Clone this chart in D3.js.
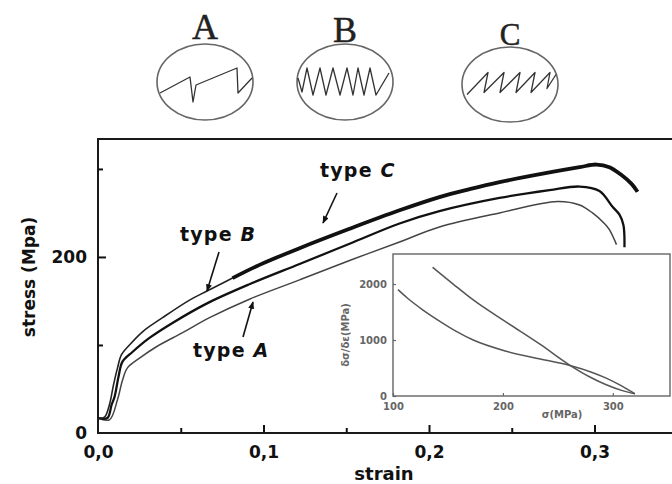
<!DOCTYPE html>
<html><head><meta charset="utf-8">
<script src="https://cdn.jsdelivr.net/npm/d3@7"></script>
<style>
html,body{margin:0;padding:0;background:#fff;}
svg{display:block;}
</style></head>
<body>
<svg id="chart" width="672" height="484"></svg>
<script>
// ---- Stress–strain curves (strain, stress in MPa) ----
const typeA_strain = [0, 0.0069, 0.0118, 0.0148, 0.0178, 0.0251, 0.0353, 0.0511, 0.0674, 0.0915, 0.1218, 0.152, 0.1822, 0.2063, 0.2426, 0.2776, 0.291, 0.2988, 0.306, 0.309, 0.3133];
const typeA_stress = [17, 15, 38, 60, 74, 85, 98, 114, 131, 152, 174, 196, 217, 234, 250, 263, 259, 250, 238, 231, 214];

const typeB_strain = [0, 0.0057, 0.0082, 0.01, 0.0124, 0.0148, 0.0208, 0.0311, 0.045, 0.0656, 0.0915, 0.1218, 0.152, 0.1822, 0.2063, 0.2426, 0.2728, 0.291, 0.303, 0.3109, 0.3151, 0.3175, 0.3181];
const typeB_stress = [17, 17, 32, 41, 64, 81, 92, 108, 125, 147, 169, 192, 215, 238, 252, 267, 276, 280, 275, 257, 248, 236, 211];

const typeC_strain = [0, 0.0039, 0.0069, 0.0094, 0.0118, 0.0142, 0.019, 0.0269, 0.039, 0.0553, 0.0656, 0.0813, 0.0976, 0.1218, 0.152, 0.1822, 0.2063, 0.2245, 0.2426, 0.2728, 0.291, 0.3012, 0.309, 0.3163, 0.3224, 0.326];
const typeC_stress = [17, 18, 32, 55, 74, 89, 100, 115, 131, 151, 161, 176, 191, 210, 232, 253, 268, 277, 285, 296, 302, 305, 302, 293, 283, 274];

// ---- Inset: work-hardening rate vs stress ----
const inset1_sigma = [104.5, 113, 127, 143, 158, 173, 203, 234, 261, 280, 294, 308, 320];
const inset1_rate  = [1900, 1750, 1540, 1330, 1150, 1000, 800, 660, 545, 430, 320, 180, 40];
const inset2_sigma = [136, 155, 173, 203, 234, 261, 280, 294, 308, 320];
const inset2_rate  = [2300, 1995, 1715, 1320, 920, 548, 330, 200, 100, 40];

// ---- Ticks ----
const strainTicks = [0, 0.1, 0.2, 0.3];
const strainMinorTicks = [0.05, 0.15, 0.25];
const stressTicks = [0, 200];
const stressMinorTicks = [100, 300];
const insetSigmaTicks = [100, 200, 300];
const insetRateTicks = [0, 1000, 2000];

// ---- Serration sketches (points relative to each oval centre) ----
const serrationTypes = ["A", "B", "C"];
const serrationA = [[-45,11],[-15,-5],[-12,20],[-9,3],[32,-14],[33,11],[47,-4]];
const serrationB = [[-47,-4],[-43,10],[-38,-14],[-32,13],[-25,-14],[-19,13],[-12,-14],[-5,13],[2,-14],[8,13],[13,-14],[19,13],[25,-14],[31,13],[44,-9]];
const serrationC = [[-43,10],[-22,-12],[-26,8],[-6,-12],[-10,8],[10,-12],[6,8],[25,-12],[21,8],[40,-12],[37,4],[46,-10]];

const svg = d3.select("#chart");
const SANS = "DejaVu Sans";
const zip = (a, b) => a.map((v, i) => [v, b[i]]);

// Main scales
const x = d3.scaleLinear().domain([0, 0.35]).range([98, 98 + 0.35 * 1655]);
const y = d3.scaleLinear().domain([0, 334]).range([433, 139]);

const commaFmt = d3.formatLocale({decimal: ",", thousands: ".", grouping: [3], currency: ["", ""]}).format(".1f");

// Frame
svg.append("rect")
  .attr("x", x(0)).attr("y", y(334))
  .attr("width", x(0.35) - x(0)).attr("height", y(0) - y(334))
  .attr("fill", "none").attr("stroke", "#1a1a1a").attr("stroke-width", 2);

function styleAxis(g, size, weight, color) {
  g.select(".domain").remove();
  g.selectAll("line").attr("stroke", color).attr("stroke-width", 2);
  g.selectAll("text").attr("font-family", SANS).attr("font-weight", weight)
    .attr("font-size", size).attr("fill", color);
}

// Bottom axis
const gx = svg.append("g").attr("transform", `translate(0,${y(0)})`)
  .call(d3.axisBottom(x).tickValues(strainTicks).tickSizeInner(-8).tickSizeOuter(0).tickPadding(13).tickFormat(commaFmt));
styleAxis(gx, 17, "bold", "#111");
gx.selectAll(".tick").filter(d => d === 0).select("line").remove();
const gxm = svg.append("g").attr("transform", `translate(0,${y(0)})`)
  .call(d3.axisBottom(x).tickValues(strainMinorTicks).tickSizeInner(-5).tickSizeOuter(0).tickFormat(""));
styleAxis(gxm, 17, "bold", "#111");

// Left axis
const gy = svg.append("g").attr("transform", `translate(${x(0)},0)`)
  .call(d3.axisLeft(y).tickValues(stressTicks).tickSizeInner(-8).tickSizeOuter(0).tickPadding(11).tickFormat(d3.format("d")));
styleAxis(gy, 17, "bold", "#111");
gy.selectAll(".tick").filter(d => d === 0).select("line").remove();
const gym = svg.append("g").attr("transform", `translate(${x(0)},0)`)
  .call(d3.axisLeft(y).tickValues(stressMinorTicks).tickSizeInner(-5).tickSizeOuter(0).tickFormat(""));
styleAxis(gym, 17, "bold", "#111");

// Axis titles
svg.append("text").attr("transform", "translate(35,277) rotate(-90)")
  .attr("text-anchor", "middle").attr("font-family", SANS).attr("font-weight", "bold")
  .attr("font-size", 17).attr("fill", "#111").text("stress (Mpa)");
svg.append("text").attr("x", 384).attr("y", 480)
  .attr("text-anchor", "middle").attr("font-family", SANS).attr("font-weight", "bold")
  .attr("font-size", 18).attr("fill", "#111").text("strain");

// Curves
const line = d3.line().x(d => x(d[0])).y(d => y(d[1])).curve(d3.curveCatmullRom.alpha(0.5));
const dataA = zip(typeA_strain, typeA_stress);
const dataB = zip(typeB_strain, typeB_stress);
const dataC = zip(typeC_strain, typeC_stress);

svg.append("path").datum(dataA).attr("d", line)
  .attr("fill", "none").attr("stroke", "#444").attr("stroke-width", 1.5);
svg.append("path").datum(dataB).attr("d", line)
  .attr("fill", "none").attr("stroke", "#111").attr("stroke-width", 2.3);
svg.append("path").datum(dataC).attr("d", line)
  .attr("fill", "none").attr("stroke", "#222").attr("stroke-width", 1.6);
// heavy serrated band of type C
svg.append("path").datum(dataC.filter(d => d[0] >= 0.0813)).attr("d", line)
  .attr("fill", "none").attr("stroke", "#111").attr("stroke-width", 3.8);

// Curve labels with arrows
const defs = svg.append("defs");
defs.append("marker").attr("id", "arrowhead").attr("viewBox", "0 0 10 8")
  .attr("refX", 9).attr("refY", 4).attr("markerWidth", 8).attr("markerHeight", 6)
  .attr("markerUnits", "userSpaceOnUse").attr("orient", "auto")
  .append("path").attr("d", "M0,0 L10,4 L0,8 Z").attr("fill", "#111");

const curveLabels = [
  {letter: "C", tx: 320, ty: 177, a: [337, 193, 323, 223]},
  {letter: "B", tx: 180, ty: 241, a: [219, 252, 207, 291]},
  {letter: "A", tx: 193, ty: 357, a: [243, 337, 253, 302]}
];
curveLabels.forEach(l => {
  const t = svg.append("text").attr("x", l.tx).attr("y", l.ty)
    .attr("font-family", SANS).attr("font-weight", "bold").attr("font-size", 19)
    .attr("letter-spacing", 1.2).attr("fill", "#111");
  t.append("tspan").text("type ");
  t.append("tspan").attr("font-style", "italic").text(l.letter);
  svg.append("line").attr("x1", l.a[0]).attr("y1", l.a[1]).attr("x2", l.a[2]).attr("y2", l.a[3])
    .attr("stroke", "#111").attr("stroke-width", 1.6).attr("marker-end", "url(#arrowhead)");
});

// ---- Inset ----
const ix = d3.scaleLinear().domain([100, 352]).range([393, 670]);
const iy = d3.scaleLinear().domain([0, 2536]).range([396, 254]);
svg.append("rect").attr("x", ix(100)).attr("y", iy(2536))
  .attr("width", ix(352) - ix(100)).attr("height", iy(0) - iy(2536))
  .attr("fill", "#fff").attr("stroke", "#777").attr("stroke-width", 1.6);

const igx = svg.append("g").attr("transform", `translate(0,${iy(0)})`)
  .call(d3.axisBottom(ix).tickValues(insetSigmaTicks).tickSizeInner(-3).tickSizeOuter(0).tickPadding(7).tickFormat(d3.format("d")));
styleAxis(igx, 10, "bold", "#666");
igx.selectAll("line").attr("stroke-width", 1.2);
const igy = svg.append("g").attr("transform", `translate(${ix(100)},0)`)
  .call(d3.axisLeft(iy).tickValues(insetRateTicks).tickSizeInner(-3).tickSizeOuter(0).tickPadding(6).tickFormat(d3.format("d")));
styleAxis(igy, 10, "bold", "#666");
igy.selectAll("line").attr("stroke-width", 1.2);

svg.append("text").attr("x", 562).attr("y", 418).attr("text-anchor", "middle")
  .attr("font-family", SANS).attr("font-weight", "bold").attr("font-size", 10)
  .attr("fill", "#666").text("σ(MPa)");
svg.append("text").attr("transform", "translate(349,335) rotate(-90)").attr("text-anchor", "middle")
  .attr("font-family", SANS).attr("font-weight", "bold").attr("font-size", 10)
  .attr("fill", "#666").text("δσ/δε(MPa)");

const iline = d3.line().x(d => ix(d[0])).y(d => iy(d[1])).curve(d3.curveMonotoneX);
svg.append("path").datum(zip(inset1_sigma, inset1_rate)).attr("d", iline)
  .attr("fill", "none").attr("stroke", "#555").attr("stroke-width", 1.5);
svg.append("path").datum(zip(inset2_sigma, inset2_rate)).attr("d", iline)
  .attr("fill", "none").attr("stroke", "#555").attr("stroke-width", 1.5);

// ---- Serration sketches above the plot ----
const ovals = [
  {cx: 205, cy: 82, ry: 38, fs: 36, by: 39, pts: serrationA},
  {cx: 345, cy: 82, ry: 38, fs: 36, by: 42, pts: serrationB},
  {cx: 510, cy: 84.5, ry: 37.5, fs: 31, by: 45, pts: serrationC}
];
const zig = d3.line();
ovals.forEach((o, i) => {
  svg.append("ellipse").attr("cx", o.cx).attr("cy", o.cy).attr("rx", 48).attr("ry", o.ry)
    .attr("fill", "none").attr("stroke", "#666").attr("stroke-width", 1.6);
  svg.append("path").attr("d", zig(o.pts.map(p => [o.cx + p[0], o.cy + p[1]])))
    .attr("fill", "none").attr("stroke", "#333").attr("stroke-width", 1.3)
    .attr("stroke-linejoin", "round");
  svg.append("text").attr("x", o.cx).attr("y", o.by).attr("text-anchor", "middle")
    .attr("font-family", "Liberation Serif").attr("font-size", o.fs).attr("fill", "#222")
    .attr("stroke", "#222").attr("stroke-width", 0.5)
    .text(serrationTypes[i]);
});
</script>
</body></html>
